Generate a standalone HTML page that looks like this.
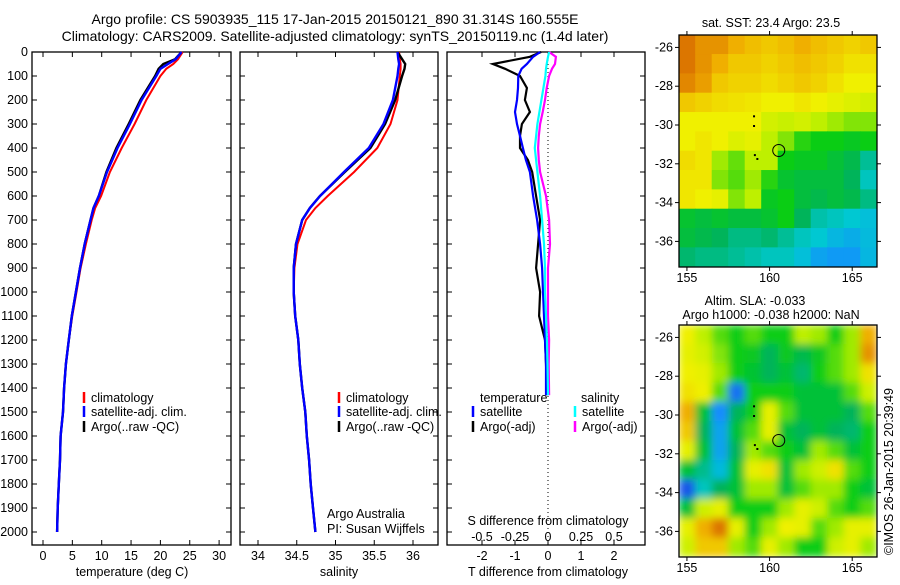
<!DOCTYPE html>
<html><head><meta charset="utf-8"><style>
body{margin:0;background:#fff;}
svg text{font-family:"Liberation Sans",sans-serif;font-size:12.5px;fill:#000;}
</style></head><body>
<svg id="fig" width="900" height="580" viewBox="0 0 900 580" xmlns="http://www.w3.org/2000/svg">
<text x="335" y="24" text-anchor="middle" style="font-size:14px">Argo profile: CS 5903935_115 17-Jan-2015 20150121_890 31.314S 160.555E</text>
<text x="335" y="41" text-anchor="middle" style="font-size:14px">Climatology: CARS2009. Satellite-adjusted climatology: synTS_20150119.nc (1.4d later)</text>
<text transform="translate(893,555) rotate(-90)" style="font-size:12.5px">©IMOS 26-Jan-2015 20:39:49</text>
</svg>
<script>
// ---------- data ----------
const depthT = [0,30,50,70,100,200,300,400,500,600,650,700,800,900,1000,1100,1200,1300,1400,1500,1600,1700,1800,1900,2000];
const tempArgo = [23.6,22.5,20.5,19.7,19.1,16.6,14.6,12.5,10.8,9.5,8.6,8.1,7.1,6.3,5.6,4.9,4.4,3.9,3.6,3.4,3.0,2.9,2.7,2.5,2.4];
const tempSat  = [23.6,22.6,21.3,20.0,19.3,16.8,14.8,12.7,10.9,9.5,8.6,8.1,7.1,6.3,5.6,4.9,4.4,3.9,3.6,3.4,3.0,2.9,2.7,2.5,2.4];
const tempClim = [23.8,23.0,22.2,21.0,20.0,17.6,15.6,13.4,11.4,9.9,8.9,8.3,7.3,6.4,5.7,5.0,4.4,3.9,3.6,3.4,3.0,2.9,2.7,2.5,2.4];
const salArgo = [35.80,35.86,35.90,35.89,35.86,35.77,35.64,35.45,35.12,34.80,34.67,34.57,34.49,34.46,34.46,34.48,34.52,34.54,34.57,34.61,34.63,34.66,34.68,34.71,34.74];
const salSat  = [35.80,35.81,35.82,35.81,35.80,35.74,35.62,35.43,35.11,34.80,34.67,34.57,34.49,34.46,34.46,34.48,34.52,34.54,34.57,34.61,34.63,34.66,34.68,34.71,34.74];
const salClim = [35.82,35.83,35.84,35.84,35.83,35.80,35.71,35.54,35.24,34.90,34.74,34.62,34.51,34.47,34.46,34.48,34.52,34.54,34.57,34.61,34.63,34.66,34.68,34.71,34.74];
const depthD = [0,20,50,70,100,150,200,250,300,350,400,450,500,600,700,800,900,1000,1100,1200,1300,1430];
const dTsat  = [-0.24,-0.45,-0.64,-0.8,-0.9,-0.91,-0.94,-1.0,-0.94,-0.85,-0.76,-0.67,-0.55,-0.45,-0.33,-0.24,-0.18,-0.15,-0.12,-0.09,-0.06,-0.06];
const dTargo = [-0.21,-0.55,-1.67,-1.3,-0.85,-0.64,-0.7,-0.55,-0.79,-0.85,-0.85,-0.61,-0.48,-0.36,-0.24,-0.3,-0.36,-0.24,-0.27,-0.09,-0.06,-0.03];
const dSsat  = [0.008,0.0,-0.01,-0.015,-0.02,-0.035,-0.05,-0.065,-0.08,-0.09,-0.1,-0.09,-0.08,-0.06,-0.045,-0.03,-0.023,-0.023,-0.015,-0.008,-0.004,0.0];
const dSargo = [0.008,0.06,0.053,0.03,0.008,-0.01,-0.023,-0.04,-0.06,-0.07,-0.075,-0.07,-0.06,-0.015,0.008,0.015,0.0,0.0,0.0,0.008,0.005,0.008];
const sstGrid = [
[.95,.9,.9,.85,.82,.8,.82,.85,.82,.8,.78,.8],
[.95,.9,.85,.8,.8,.78,.8,.82,.8,.78,.75,.75],
[.92,.88,.8,.78,.78,.76,.78,.8,.78,.75,.72,.72],
[.8,.78,.76,.75,.74,.72,.72,.74,.72,.7,.68,.66],
[.72,.72,.72,.72,.72,.66,.64,.66,.62,.6,.58,.58],
[.72,.74,.72,.68,.7,.62,.58,.52,.5,.5,.48,.5],
[.76,.74,.6,.56,.62,.62,.5,.48,.48,.45,.42,.34],
[.74,.74,.58,.55,.6,.52,.46,.44,.44,.44,.4,.3],
[.74,.72,.7,.58,.62,.48,.5,.44,.42,.44,.42,.36],
[.46,.44,.46,.44,.44,.46,.5,.4,.32,.3,.28,.26],
[.44,.42,.4,.36,.36,.38,.34,.3,.28,.24,.22,.25],
[.38,.36,.36,.34,.32,.3,.3,.26,.2,.18,.18,.24]];
const slaGrid = [
[.72,.62,.55,.5,.55,.5,.5,.62,.6,.5,.6,.85],
[.7,.66,.58,.5,.48,.4,.48,.42,.48,.55,.6,.9],
[.72,.7,.6,.5,.46,.4,.45,.38,.5,.55,.6,.75],
[.75,.72,.55,.1,.5,.5,.5,.45,.45,.45,.55,.65],
[.85,.45,.15,.4,.5,.7,.55,.45,.45,.45,.4,.55],
[.8,.4,.2,.45,.55,.7,.45,.4,.45,.4,.38,.5],
[.7,.45,.2,.4,.6,.55,.5,.45,.6,.55,.45,.5],
[.45,.35,.25,.45,.7,.75,.45,.6,.65,.75,.55,.5],
[.05,.3,.4,.45,.6,.6,.45,.55,.6,.6,.5,.45],
[.45,.65,.7,.5,.5,.5,.6,.7,.65,.55,.5,.55],
[.7,.85,.95,.7,.5,.6,.72,.7,.55,.6,.7,.7],
[.65,.8,.8,.6,.55,.7,.6,.5,.5,.65,.7,.6]];
const depthTicks = [0,100,200,300,400,500,600,700,800,900,1000,1100,1200,1300,1400,1500,1600,1700,1800,1900,2000];
const tTicks = [0,5,10,15,20,25,30];
const sTicks = [34,34.5,35,35.5,36];
const sTickLabels = ['34','34.5','35','35.5','36'];
const dTTicks = [-2,-1,0,1,2];
const dSTicks = [-0.5,-0.25,0,0.25,0.5];
const dSTickLabels = ['-0.5','-0.25','0','0.25','0.5'];
const latTicks = [-26,-28,-30,-32,-34,-36];
const lonTicks = [155,160,165];
const argoLon = 160.555, argoLat = -31.314;

// ---------- helpers ----------
const svg = document.getElementById('fig');
const NS = 'http://www.w3.org/2000/svg';
function mk(tag, attrs, parent){const e=document.createElementNS(NS,tag);for(const k in attrs)e.setAttribute(k,attrs[k]);(parent||svg).appendChild(e);return e;}
function txt(s,x,y,anchor,parent){const t=mk('text',{x:x,y:y,'text-anchor':anchor||'start'},parent);t.textContent=s;return t;}
const yTop=52, yBot=545;
const yD = d => yTop + d*0.24;
const xT = v => 43 + v*5.87;
const xS = v => 258 + (v-34)*77.5;
const xDT = v => 548 + v*33;
const xDS = v => 548 + v*132;

function panel(x0,x1,name){
  const r=mk('rect',{x:x0,y:yTop,width:x1-x0,height:yBot-yTop,fill:'none',stroke:'#000','stroke-width':1.3});
  
  
}
function line(xs,ys,xf,color,w,name,dash){
  const pts=xs.map((v,i)=>xf(v).toFixed(1)+','+yD(ys[i]).toFixed(1)).join(' ');
  const p=mk('polyline',{points:pts,fill:'none',stroke:color,'stroke-width':w||2.4});
  if(dash)p.setAttribute('stroke-dasharray',dash);
  
  
}
function xticks(ticks,labels,xf,y,name){
  ticks.forEach((v,i)=>{
    const x=xf(v);
    mk('line',{x1:x,y1:yBot,x2:x,y2:yBot-5,stroke:'#000'});
    mk('line',{x1:x,y1:yTop,x2:x,y2:yTop+5,stroke:'#000'});
    if(y){const t=txt(labels[i],x,y,'middle');
    
    }
  });
}
function legend(x,y,color,label){
  mk('line',{x1:x,y1:y-10,x2:x,y2:y+1,stroke:color,'stroke-width':2.5});
  const t=txt(label,x+7,y);
  
  
}

// ---------- panel 1: temperature ----------
panel(32,231,'temperature-panel');
depthTicks.forEach(d=>{
  mk('line',{x1:32,y1:yD(d),x2:37,y2:yD(d),stroke:'#000'});
  mk('line',{x1:231,y1:yD(d),x2:226,y2:yD(d),stroke:'#000'});
  const t=txt(String(d),28,yD(d)+4,'end');
  
  
});
xticks(tTicks,tTicks.map(String),xT,560,'temperature-tick-label');
line(tempClim,depthT,xT,'#f00',2,'temperature-climatology-line');
line(tempArgo,depthT,xT,'#000',2.4,'temperature-argo-line');
line(tempSat,depthT,xT,'#00f',2.4,'temperature-satellite-line');
legend(84,402,'#f00','climatology');legend(84,416,'#00f','satellite-adj. clim.');legend(84,431,'#000','Argo(..raw -QC)');
let t=txt('temperature (deg C)',132,576,'middle');

// ---------- panel 2: salinity ----------
panel(240,438,'salinity-panel');
depthTicks.forEach(d=>{mk('line',{x1:240,y1:yD(d),x2:245,y2:yD(d),stroke:'#000'});mk('line',{x1:438,y1:yD(d),x2:433,y2:yD(d),stroke:'#000'});});
xticks(sTicks,sTickLabels,xS,560,'salinity-tick-label');
line(salClim,depthT,xS,'#f00',2,'salinity-climatology-line');
line(salArgo,depthT,xS,'#000',2.4,'salinity-argo-line');
line(salSat,depthT,xS,'#00f',2.4,'salinity-satellite-line');
legend(339,402,'#f00','climatology');legend(339,416,'#00f','satellite-adj. clim.');legend(339,431,'#000','Argo(..raw -QC)');
t=txt('Argo Australia',327,518);
t=txt('PI: Susan Wijffels',327,533);
t=txt('salinity',339,576,'middle');

// ---------- panel 3: differences ----------
panel(447,645,'difference-panel');
depthTicks.forEach(d=>{mk('line',{x1:645,y1:yD(d),x2:640,y2:yD(d),stroke:'#000'});mk('line',{x1:447,y1:yD(d),x2:452,y2:yD(d),stroke:'#000'});});
xticks(dTTicks,dTTicks.map(String),xDT,560,'t-difference-tick-label');
dSTicks.forEach((v,i)=>{const tt=txt(dSTickLabels[i],xDS(v),541,'middle');
  
  });
mk('line',{x1:548,y1:yTop,x2:548,y2:yBot,stroke:'#000','stroke-dasharray':'1,3'});
line(dTargo,depthD,xDT,'#000',2.2,'t-difference-argo-line');
line(dTsat,depthD,xDT,'#00f',2.2,'t-difference-satellite-line');
line(dSargo,depthD,xDS,'#f0f',2.2,'s-difference-argo-line');
line(dSsat,depthD,xDS,'#0ff',2.2,'s-difference-satellite-line');
t=txt('temperature',480,402);
t=txt('salinity',581,402);
legend(473,416,'#00f','satellite');legend(473,431,'#000','Argo(-adj)');
legend(575,416,'#0ff','satellite');legend(575,431,'#f0f','Argo(-adj)');
t=txt('S difference from climatology',548,525,'middle');
t=txt('T difference from climatology',548,576,'middle');

// ---------- maps ----------
const cmapStops=[[0,[20,60,220]],[0.15,[20,140,255]],[0.28,[0,200,210]],[0.4,[0,180,90]],[0.5,[10,205,20]],[0.62,[190,240,0]],[0.72,[240,240,0]],[0.85,[240,175,0]],[1,[210,90,0]]];
function cmap(v){
  for(let i=1;i<cmapStops.length;i++){
    if(v<=cmapStops[i][0]){const a=cmapStops[i-1],b=cmapStops[i];const f=(v-a[0])/(b[0]-a[0]);
      const c=a[1].map((x,k)=>Math.round(x+(b[1][k]-x)*f));return 'rgb('+c.join(',')+')';}
  }
  return 'rgb(210,90,0)';
}
const defs=mk('defs',{});
const flt=mk('filter',{id:'blur',x:'-10%',y:'-10%',width:'120%',height:'120%'},defs);
mk('feGaussianBlur',{stdDeviation:4,edgeMode:'duplicate'},flt);
function map(grid,y0,name,blur,clipId){
  const x0=679,x1=877,y1=y0+232;
  const lon0=154.52,lon1=166.5,lat0=-25.36,lat1=-37.32;
  const xL=v=>x0+(v-lon0)/(lon1-lon0)*(x1-x0);
  const yL=v=>y0+(v-lat0)/(lat1-lat0)*(y1-y0);
  const cp=mk('clipPath',{id:clipId},defs);
  mk('rect',{x:x0,y:y0,width:x1-x0,height:y1-y0},cp);
  const g=mk('g',{'clip-path':'url(#'+clipId+')'});
  
  
  const inner=mk('g',blur?{filter:'url(#blur)'}:{},g);
  const rows=grid.length,cols=grid[0].length,cw=(x1-x0)/cols,ch=(y1-y0)/rows;
  grid.forEach((row,r)=>row.forEach((v,c)=>{
    const cell=mk('rect',{x:x0+c*cw-0.3,y:y0+r*ch-0.3,width:cw+0.6,height:ch+0.6,fill:cmap(v)},inner);
    
    
  }));
  mk('rect',{x:x0,y:y0,width:x1-x0,height:y1-y0,fill:'none',stroke:'#000','stroke-width':1.3});
  latTicks.forEach(v=>{const y=yL(v);
    mk('line',{x1:x0-4,y1:y,x2:x0,y2:y,stroke:'#000'});mk('line',{x1:x1,y1:y,x2:x1+4,y2:y,stroke:'#000'});
    const tt=txt(String(v),x0-6,y+4,'end');});
  lonTicks.forEach(v=>{const x=xL(v);
    mk('line',{x1:x,y1:y0-4,x2:x,y2:y0,stroke:'#000'});mk('line',{x1:x,y1:y1,x2:x,y2:y1+4,stroke:'#000'});
    const tt=txt(String(v),x,y1+15,'middle');});
  const c=mk('circle',{cx:xL(argoLon),cy:yL(argoLat),r:6,fill:'none',stroke:'#000','stroke-width':1});
  
  
  [[159,-29.5],[159,-30],[159.05,-31.5],[159.2,-31.7]].forEach(p=>{mk('rect',{x:xL(p[0]),y:yL(p[1]),width:2,height:2,fill:'#000'});});
}
map(sstGrid,35,'sst-map',false,'clip1');
map(slaGrid,325,'sla-map',true,'clip2');
t=txt('sat. SST: 23.4 Argo: 23.5',771,27,'middle');
t=txt('Altim. SLA: -0.033',755,305,'middle');
t=txt('Argo h1000: -0.038 h2000: NaN',771,319,'middle');
</script>
</body></html>
